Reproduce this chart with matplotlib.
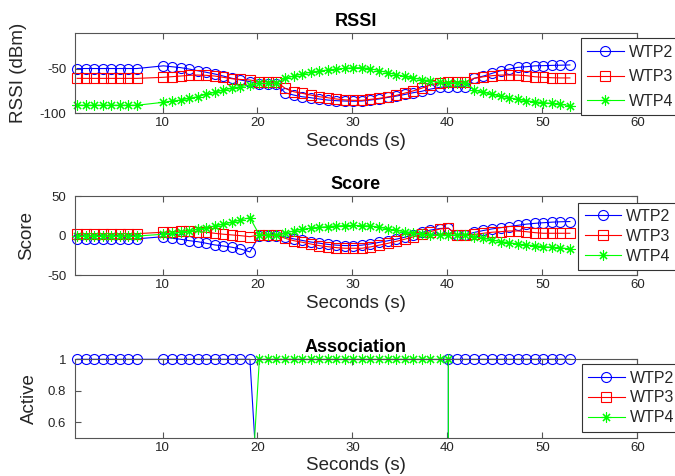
import matplotlib
matplotlib.use('Agg')
import matplotlib.pyplot as plt
from matplotlib.patches import Rectangle

plt.rcParams['font.family'] = ['Liberation Sans', 'DejaVu Sans']

# ---------------- data ----------------
t = [1.0, 1.9, 2.8, 3.7, 4.6, 5.5, 6.4, 7.3,
     10.1, 11.0, 11.9, 12.8, 13.7, 14.6, 15.5, 16.4, 17.3, 18.2, 19.2,
     20.2, 21.1, 22.0, 22.9, 23.8, 24.7, 25.6, 26.5, 27.4, 28.3, 29.2, 30.1,
     31.0, 31.9, 32.8, 33.7, 34.6, 35.5, 36.4, 37.3, 38.2, 39.2, 40.1,
     41.0, 41.9, 42.8, 43.8, 44.7, 45.6, 46.5, 47.4, 48.3, 49.2, 50.1, 51.0, 51.9, 52.9]

rssi_wtp2 = [-50, -50, -50, -50, -50, -50, -50, -50,
             -47, -48, -49, -50.6, -52.5, -54.2, -56.1, -58.4, -60.9, -62.8, -64.7,
             -67, -67, -67, -77, -79.6, -81.5, -82.6, -84, -85.2, -85.9, -86.3, -86.5,
             -86.3, -85.2, -84, -82.3, -80.8, -79, -77, -75.4, -73, -71, -70.3,
             -70.3, -70.3, -61, -58.4, -55.4, -52.5, -50.6, -48.7, -48, -47, -46.8, -46.5, -46.3, -46]
rssi_wtp3 = [-61, -61, -61, -61, -61, -61, -61, -61,
             -59.8, -59.1, -58.4, -57.6, -57.3, -57.6, -58.4, -59.8, -61.4, -62.2, -62.8,
             -64.7, -64.7, -64.7, -72, -75.9, -77.7, -79.6, -81.5, -82.6, -84, -85, -85.5,
             -85.5, -84.4, -83.3, -81.8, -80, -77.5, -75, -72, -68.4, -66.1, -64.7,
             -64.7, -64.7, -61, -59.2, -58, -57.3, -57.3, -57.3, -58, -59.2, -59.8, -60.3, -60.5, -60.5]
rssi_wtp4 = [-91, -91, -91, -91, -91, -91, -91, -91,
             -87.7, -86.3, -85.2, -83.3, -81.5, -78.8, -76.6, -74, -72.1, -70.3, -68.4,
             -66.5, -66.5, -66.5, -61, -58.4, -56.1, -54.2, -52.8, -51.7, -50.6, -49.8, -49.1,
             -49.1, -50.3, -52.3, -54.5, -56.8, -58.7, -60.6, -62.3, -64, -65.4, -66,
             -66, -66, -74, -76.6, -78.8, -80.7, -82.6, -84.4, -86, -87.1, -88.2, -88.8, -90, -91.5]

score_wtp2 = [-4, -4, -4, -4, -4, -4, -4, -4,
              -1.3, -3.3, -4.5, -6.3, -7.6, -9.6, -11.7, -13, -14.6, -16.8, -20.5,
              0, 0, 0, -1.5, -4, -6, -8, -9.5, -11, -12, -12.5, -12.5,
              -12, -10.5, -8.5, -6.5, -4.5, -2, 0.9, 4, 7, 9, 9.5,
              0.9, 0.9, 4, 6.5, 8.5, 10, 11.5, 13, 14.5, 15.5, 16.3, 17, 17.5, 17.8]
score_wtp3 = [2.5, 2.5, 2.5, 2.5, 2.5, 2.5, 2.5, 2.5,
              4.3, 5, 5.9, 5.9, 5, 4.3, 3, 1.8, 0.9, 0, -1.3,
              1, 1, 1, -3.3, -6.3, -8.3, -10.5, -12.6, -13.9, -15.1, -15.9, -15.9,
              -15.9, -14.2, -12, -9.8, -7.2, -4.5, -1.5, 1.5, 5, 8.4, 9.3,
              0.9, 0.9, 1.5, 3, 4.3, 5, 5.9, 5.9, 5, 3.8, 3, 3, 3, 3]
score_wtp4 = [-0.5, -0.5, -0.5, -0.5, -0.5, -0.5, -0.5, -0.5,
              1.8, 3, 4.3, 5.9, 8, 10.1, 12.2, 14.4, 16.9, 19.8, 22.7,
              0.9, 0.9, 0.9, 3, 5.9, 8, 9.3, 10.6, 11.3, 12.2, 12.6, 12.8,
              12.6, 12.2, 10.7, 8.6, 6.5, 5, 3.5, 2, 0.9, 0.9, 0.9,
              0.9, 0.9, -1.3, -3.3, -5.4, -7.6, -8.8, -10.5, -11.7, -12.6, -13.9, -14.6, -15.5, -16.5]

t_assoc = t[:42] + [40.1] + t[42:]
assoc_wtp2 = [1] * 19 + [0] * 23 + [1] * 15
assoc_wtp3 = [0] * 57
assoc_wtp4 = [0] * 19 + [1] * 23 + [0] * 15

x_ticks = [10, 20, 30, 40, 50, 60]
names = ['WTP2', 'WTP3', 'WTP4']

# ---------------- figure ----------------
W, H = 675, 476
fig = plt.figure(figsize=(W / 100, H / 100), dpi=100)

def rect(top_px, bottom_px, left_px=74.7, right_px=637.3):
    return [left_px / W, 1 - bottom_px / H, (right_px - left_px) / W, (bottom_px - top_px) / H]

ax1 = fig.add_axes(rect(32.7, 113.3))
ax2 = fig.add_axes(rect(196.0, 275.3))
ax3 = fig.add_axes(rect(359.3, 437.7))

styles = [dict(color=(0, 0, 1), marker='o', ms=7.2),
          dict(color=(1, 0, 0), marker='s', ms=6.6),
          dict(color=(0, 1, 0), marker=(8, 2, 0), ms=7.2)]

def draw(ax, tt, series, top_extra):
    for ys, st, nm in zip(series, styles, names):
        ln, = ax.plot(tt, ys, color=st['color'], marker=st['marker'], ms=st['ms'],
                      mfc='none', mec=st['color'], mew=0.8, lw=0.8, label=nm)
        clip = Rectangle((-0.02, 0), 1.04, 1 + top_extra, transform=ax.transAxes)
        ln.set_clip_path(clip)

draw(ax1, t, [rssi_wtp2, rssi_wtp3, rssi_wtp4], 0.0)
draw(ax2, t, [score_wtp2, score_wtp3, score_wtp4], 0.0)
draw(ax3, t_assoc, [assoc_wtp2, assoc_wtp3, assoc_wtp4], 0.12)

axcol = '#555555'
txtcol = '#262626'

def style(ax, title, ylabel, ylim, yticks, yticklabels, legend_left, legend_top, ylab_x, lspace):
    ax.set_xlim(0.75, 60)
    ax.set_ylim(*ylim)
    ax.set_xticks(x_ticks)
    ax.set_yticks(yticks)
    ax.set_yticklabels(yticklabels)
    ax.tick_params(direction='in', length=4, width=0.8, colors=axcol, labelcolor=txtcol,
                   labelsize=9.5, top=True, right=True)
    ax.tick_params(axis='x', pad=3)
    ax.tick_params(axis='y', pad=6)
    for sp in ax.spines.values():
        sp.set_color(axcol)
        sp.set_linewidth(0.8)
    ax.set_title(title, fontsize=13, fontweight='bold', color='black', pad=5)
    ax.set_xlabel('Seconds (s)', fontsize=13.5, color=txtcol, labelpad=2.5)
    ax.set_ylabel(ylabel, fontsize=13.5, color=txtcol)
    ax.yaxis.set_label_coords(ylab_x, 0.5)
    leg = ax.legend(loc='upper left', bbox_to_anchor=(legend_left / W, 1 - legend_top / H),
                    bbox_transform=fig.transFigure, borderaxespad=0, fontsize=11.5,
                    numpoints=1, handlelength=2.3, handletextpad=0.3, labelspacing=lspace,
                    borderpad=0.4, fancybox=False, framealpha=1, edgecolor='#333333')
    leg.get_frame().set_linewidth(0.8)
    leg.set_zorder(5)
    for txt in leg.get_texts():
        txt.set_color(txtcol)

style(ax1, 'RSSI', 'RSSI (dBm)', (-100, -10), [-100, -50], ['-100', '-50'], 580.7, 38.3, -0.085, 0.6)
style(ax2, 'Score', 'Score', (-50, 50), [-50, 0, 50], ['-50', '0', '50'], 578.3, 202.7, -0.070, 0.3)
style(ax3, 'Association', 'Active', (0.5, 1), [0.6, 0.8, 1], ['0.6', '0.8', '1'], 581.7, 364.3, -0.066, 0.3)

fig.savefig('out.png', dpi=100)
